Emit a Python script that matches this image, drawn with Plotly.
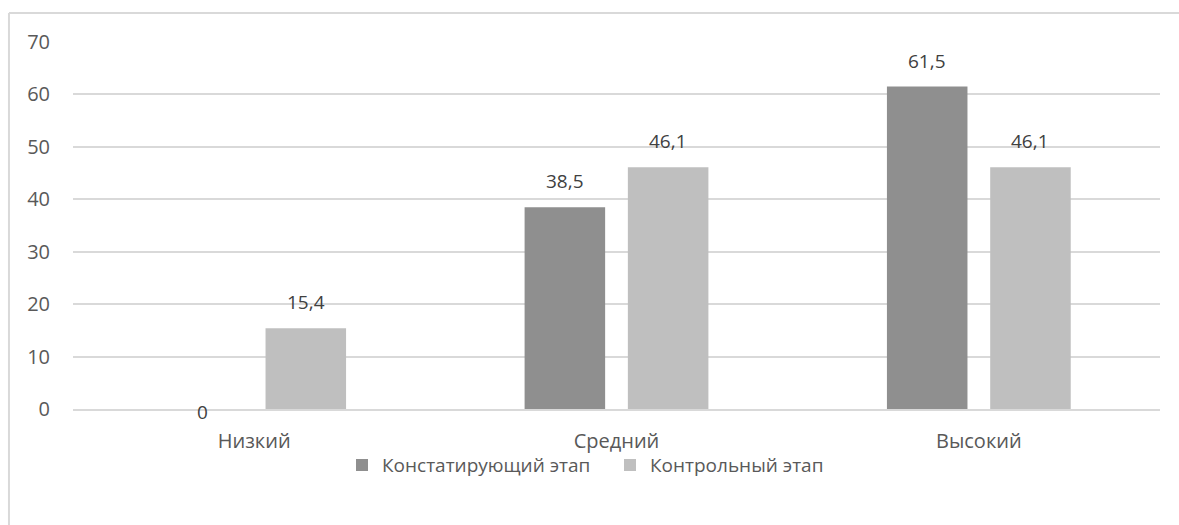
import plotly.graph_objects as go

categories = ["Низкий", "Средний", "Высокий"]
series_names = ["Констатирующий этап", "Контрольный этап"]
konst = [0, 38.5, 61.5]
kontr = [15.4, 46.1, 46.1]
y_ticks = [0, 10, 20, 30, 40, 50, 60, 70]

colors = ["#8f8f8f", "#bfbfbf"]
font_family = "Open Sans, Noto Sans, sans-serif"
text_color = "#595959"

fig = go.Figure()
for name, vals, col in zip(series_names, [konst, kontr], colors):
    fig.add_trace(go.Bar(
        x=categories, y=vals, name=name,
        marker=dict(color=col, line=dict(color=col, width=0)),
    ))

def fmt(v):
    return str(int(v)) if v == int(v) else str(v).replace(".", ",")

annotations = []
offsets = [-51.5, 51.5]
for vals, dx in zip([konst, kontr], offsets):
    for c, v in zip(categories, vals):
        annotations.append(dict(
            x=c, y=v, xref="x", yref="y", yanchor="middle", xanchor="center",
            text=fmt(v),
            showarrow=False, xshift=dx, yshift=(26 if v > 0 else -3),
            font=dict(family=font_family, size=19, color="#404040"),
        ))

fig.update_layout(
    width=1179, height=525,
    margin=dict(l=73, r=19, t=42, b=116),
    paper_bgcolor="white", plot_bgcolor="white",
    barmode="group", bargap=0.43, bargroupgap=0.22,
    font=dict(family=font_family, size=19, color=text_color),
    showlegend=True,
    legend=dict(orientation="h", x=269 / 1087, xanchor="left", y=-0.153, yanchor="middle",
                bgcolor="rgba(0,0,0,0)", entrywidth=223, entrywidthmode="pixels",
                font=dict(size=19, color=text_color), itemwidth=30, traceorder="normal"),
    annotations=annotations,
    shapes=[
        dict(type="line", xref="paper", yref="paper", x0=-0.0589, x1=1.02, y0=1.079, y1=1.079,
             line=dict(color="#d9d9d9", width=2)),
        dict(type="line", xref="paper", yref="paper", x0=-0.0589, x1=-0.0589, y0=1.079, y1=-0.32,
             line=dict(color="#d9d9d9", width=2)),
    ],
)
fig.update_yaxes(range=[0, 70], tickvals=y_ticks, showgrid=True, gridcolor="#d9d9d9", gridwidth=1.5,
                 zeroline=False, showline=False, ticks="", ticklabelstandoff=22,
                 tickfont=dict(size=20, color=text_color))
fig.update_xaxes(showline=True, linecolor="#d9d9d9", linewidth=1.5, ticks="outside", ticklen=13,
                 tickcolor="rgba(0,0,0,0)", tickfont=dict(size=20, color=text_color))

fig.write_html("out.html", config={"displayModeBar": False},
               post_script="document.body.style.margin='0';")
